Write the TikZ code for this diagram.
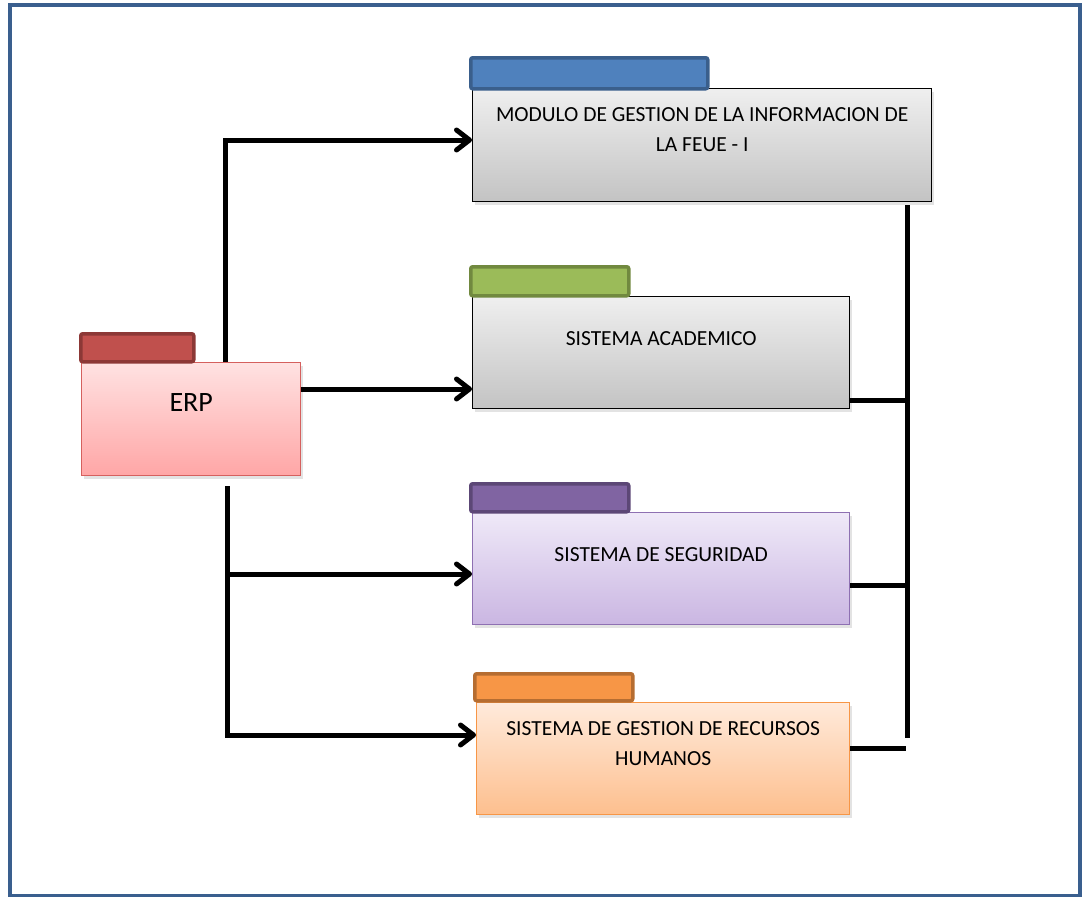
\documentclass[tikz,border=0pt]{standalone}
\usepackage{fontspec}
\setmainfont{Carlito}
\usetikzlibrary{arrows.meta,shadows}

% palette
\definecolor{frameblue}{HTML}{3A5F8E}
\definecolor{tabblue}{HTML}{4F81BD}\definecolor{tabblueE}{HTML}{3A5F8C}
\definecolor{tabgreen}{HTML}{9BBB59}\definecolor{tabgreenE}{HTML}{71893F}
\definecolor{tabviolet}{HTML}{8064A2}\definecolor{tabvioletE}{HTML}{5C4776}
\definecolor{taborange}{HTML}{F79646}\definecolor{taborangeE}{HTML}{B66D31}
\definecolor{tabred}{HTML}{C0504D}\definecolor{tabredE}{HTML}{8C3836}
\definecolor{greyTop}{HTML}{EFEFEF}\definecolor{greyBot}{HTML}{C3C3C3}
\definecolor{pinkTop}{HTML}{FFE2E2}\definecolor{pinkBot}{HTML}{FFA6A6}\definecolor{pinkE}{HTML}{D5605E}
\definecolor{lilaTop}{HTML}{EFE9F8}\definecolor{lilaBot}{HTML}{CAB6E2}\definecolor{lilaE}{HTML}{8E70B2}
\definecolor{peachTop}{HTML}{FFEADB}\definecolor{peachBot}{HTML}{FDBF8E}\definecolor{peachE}{HTML}{F79646}

\begin{document}
\begin{tikzpicture}[x=1pt,y=-1pt,
  body/.style={draw, line width=1.4pt, anchor=north west, inner sep=0pt,
    drop shadow={shadow xshift=2pt, shadow yshift=-3pt, opacity=0.22}},
  greybox/.style={body, draw=black, top color=greyTop, bottom color=greyBot},
  tabbox/.style={anchor=north west, inner sep=0pt, line width=3.5pt,
    rounded corners=2pt, minimum width=158pt, minimum height=28pt},
  label/.style={align=center, font=\fontsize{21.5}{30}\selectfont},
  conn/.style={line width=5pt, line join=miter},
  arr/.style={conn, -{Straight Barb[length=13pt,width=20pt,round]}},
  frame/.style={draw=frameblue, line width=4pt}]

\useasboundingbox (0,0) rectangle (1085,897);
\draw[frame] (10,5) rectangle (1080,895.5);

% module boxes
\node[body, draw=pinkE, top color=pinkTop, bottom color=pinkBot,
      minimum width=219pt, minimum height=113pt] (erp) at (81,362) {};
\node[greybox, minimum width=459pt, minimum height=113pt] (mod) at (472,88) {};
\node[greybox, minimum width=377pt, minimum height=112pt] (sa) at (472,296) {};
\node[body, draw=lilaE, top color=lilaTop, bottom color=lilaBot,
      minimum width=377pt, minimum height=112pt] (ss) at (472,512) {};
\node[body, draw=peachE, top color=peachTop, bottom color=peachBot,
      minimum width=373pt, minimum height=112pt] (rh) at (476,702) {};

% folder tabs
\node[tabbox, fill=tabred, draw=tabredE, minimum width=113pt] (erp-tab) at (79,332) {};
\node[tabbox, fill=tabblue, draw=tabblueE, minimum width=237pt, minimum height=31pt] (mod-tab) at (469,56) {};
\node[tabbox, fill=tabgreen, draw=tabgreenE, minimum height=29pt] (sa-tab) at (469,265) {};
\node[tabbox, fill=tabviolet, draw=tabvioletE] (ss-tab) at (469,482) {};
\node[tabbox, fill=taborange, draw=taborangeE, minimum height=27pt] (rh-tab) at (473,672) {};

% captions
\node[label, font=\fontsize{28}{32}\selectfont] (erp-txt) at ([yshift=-41pt]erp.north) {ERP};
\node[label] (mod-txt) at ([yshift=-42pt]mod.north) {MODULO DE GESTION DE LA INFORMACION DE\\LA FEUE - I};
\node[label] (sa-txt) at ([yshift=-43pt]sa.north) {SISTEMA ACADEMICO};
\node[label] (ss-txt) at ([yshift=-43pt]ss.north) {SISTEMA DE SEGURIDAD};
\node[label] (rh-txt) at ([yshift=-42pt]rh.north) {SISTEMA DE GESTION DE RECURSOS\\HUMANOS};

% junction points
\coordinate (up) at (225,140);
\coordinate (mid) at (300,389);
\coordinate (down) at (227,735);
\coordinate (fork) at (227,574);
\coordinate (busTop) at (907,205);
\coordinate (busBot) at (907,738);
\coordinate (r2) at (907,400);
\coordinate (r3) at (907,585);
\coordinate (r4) at (906,748);

% ERP to the modules
\draw[arr] (erp.north -| up) -- (up) -- (mod.west |- up);
\draw[arr] (erp.east |- mid) -- (sa.west |- mid);
\draw[arr] ([yshift=-10pt]erp.south -| down) -- (down) -- (rh.west |- down);
\draw[arr] (fork) -- (ss.west |- fork);

% right-hand bus
\draw[conn] (busTop) -- (busBot);
\draw[conn] (sa.east |- r2) -- (r2);
\draw[conn] (ss.east |- r3) -- (r3);
\draw[conn] (rh.east |- r4) -- (r4);
\end{tikzpicture}
\end{document}
